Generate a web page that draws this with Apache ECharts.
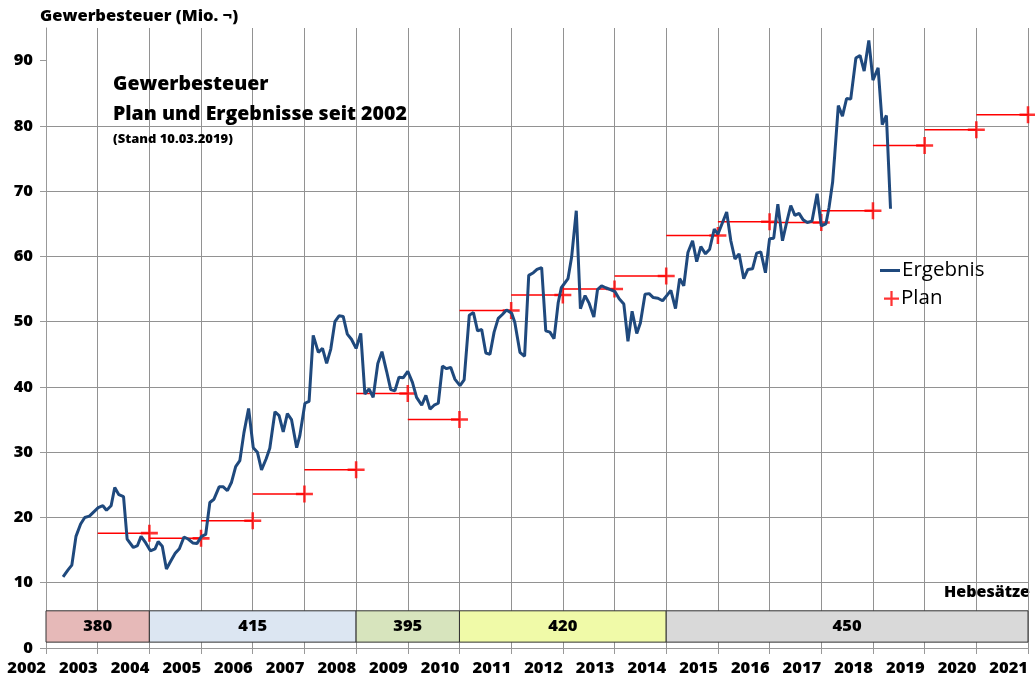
<!DOCTYPE html>
<html>
<head>
<meta charset="utf-8">
<title>Gewerbesteuer</title>
<script src="https://cdn.jsdelivr.net/npm/echarts@6/dist/echarts.min.js"></script>
<style>
  html, body { margin: 0; padding: 0; background: #fff; }
  #main { width: 1035px; height: 684px; }
</style>
</head>
<body>
<div id="main"></div>
<script>
// Ergebnis (monatlich, x = Jahr als Dezimalzahl)
var ergebnis = [
  [2002.33, 10.9], [2002.43, 12.0], [2002.50, 12.7], [2002.58, 17.1], [2002.67, 19.0],
  [2002.75, 20.0], [2002.84, 20.2], [2002.93, 20.9], [2003.01, 21.5], [2003.10, 21.8],
  [2003.17, 21.1], [2003.26, 21.8], [2003.33, 24.6], [2003.41, 23.5], [2003.50, 23.2],
  [2003.57, 16.7], [2003.69, 15.4], [2003.77, 15.7], [2003.84, 17.1], [2003.93, 16.1],
  [2004.02, 14.9], [2004.11, 15.2], [2004.17, 16.3], [2004.25, 15.6], [2004.33, 12.1],
  [2004.42, 13.4], [2004.50, 14.5], [2004.58, 15.2], [2004.67, 17.0], [2004.75, 16.7],
  [2004.84, 16.1], [2004.92, 16.0], [2005.01, 17.1], [2005.09, 17.4], [2005.17, 22.3],
  [2005.25, 22.8], [2005.35, 24.7], [2005.43, 24.7], [2005.51, 24.1], [2005.59, 25.4],
  [2005.67, 27.8], [2005.75, 28.7], [2005.83, 33.0], [2005.92, 36.7], [2006.01, 30.7],
  [2006.09, 30.0], [2006.17, 27.3], [2006.26, 29.0], [2006.33, 30.6], [2006.43, 36.2],
  [2006.51, 35.6], [2006.59, 33.1], [2006.67, 35.9], [2006.75, 35.0], [2006.85, 30.7],
  [2006.91, 32.5], [2007.01, 37.5], [2007.09, 37.8], [2007.17, 47.9], [2007.27, 45.3],
  [2007.35, 45.9], [2007.43, 43.6], [2007.51, 45.8], [2007.59, 50.0], [2007.67, 50.9],
  [2007.75, 50.8], [2007.83, 48.1], [2007.91, 47.3], [2008.00, 45.9], [2008.09, 48.2],
  [2008.17, 38.9], [2008.25, 39.7], [2008.33, 38.4], [2008.42, 43.6], [2008.50, 45.4],
  [2008.59, 42.4], [2008.67, 39.6], [2008.75, 39.4], [2008.83, 41.5], [2008.91, 41.4],
  [2009.00, 42.4], [2009.09, 40.7], [2009.17, 38.4], [2009.27, 37.2], [2009.35, 38.7],
  [2009.43, 36.6], [2009.51, 37.2], [2009.59, 37.5], [2009.67, 43.2], [2009.75, 42.8],
  [2009.83, 43.0], [2009.91, 41.2], [2010.01, 40.2], [2010.09, 41.1], [2010.19, 51.0],
  [2010.27, 51.4], [2010.35, 48.6], [2010.43, 48.8], [2010.51, 45.2], [2010.59, 45.0],
  [2010.67, 48.4], [2010.75, 50.5], [2010.83, 51.1], [2010.91, 51.8], [2011.01, 51.3],
  [2011.07, 49.9], [2011.17, 45.3], [2011.26, 44.7], [2011.34, 57.1], [2011.43, 57.5],
  [2011.50, 58.0], [2011.59, 58.3], [2011.67, 48.6], [2011.75, 48.4], [2011.83, 47.4],
  [2011.91, 52.9], [2011.97, 55.2], [2012.10, 56.6], [2012.17, 59.9], [2012.26, 67.0],
  [2012.34, 52.0], [2012.43, 54.0], [2012.51, 52.8], [2012.60, 50.7], [2012.67, 54.9],
  [2012.75, 55.5], [2012.83, 55.2], [2012.92, 54.9], [2013.01, 54.6], [2013.09, 53.5],
  [2013.18, 52.7], [2013.26, 47.0], [2013.34, 51.6], [2013.43, 48.2], [2013.50, 49.8],
  [2013.59, 54.2], [2013.67, 54.3], [2013.75, 53.7], [2013.84, 53.6], [2013.93, 53.2],
  [2014.01, 54.0], [2014.09, 54.8], [2014.18, 52.0], [2014.26, 56.6], [2014.34, 55.5],
  [2014.42, 60.6], [2014.51, 62.4], [2014.59, 59.2], [2014.67, 61.5], [2014.76, 60.4],
  [2014.84, 61.1], [2014.93, 64.2], [2015.00, 63.4], [2015.17, 66.8], [2015.25, 62.4],
  [2015.33, 59.6], [2015.41, 60.4], [2015.50, 56.6], [2015.58, 58.0], [2015.67, 58.1],
  [2015.75, 60.5], [2015.83, 60.7], [2015.92, 57.5], [2016.00, 62.7], [2016.08, 62.8],
  [2016.16, 68.0], [2016.25, 62.4], [2016.33, 65.2], [2016.41, 67.8], [2016.49, 66.3],
  [2016.57, 66.6], [2016.65, 65.6], [2016.73, 65.2], [2016.82, 65.4], [2016.92, 69.6],
  [2017.00, 64.7], [2017.09, 65.0], [2017.15, 67.5], [2017.22, 71.4], [2017.26, 75.5],
  [2017.33, 83.1], [2017.41, 81.5], [2017.49, 84.2], [2017.57, 84.1], [2017.67, 90.4],
  [2017.75, 90.8], [2017.83, 88.4], [2017.92, 93.1], [2018.00, 87.0], [2018.10, 88.9],
  [2018.18, 80.2], [2018.26, 81.6], [2018.34, 67.3]
];

// Plan je Jahr (Kreuz am Jahresende, Linie über das Jahr)
var planYears = [2004, 2005, 2006, 2007, 2008, 2009, 2010, 2011, 2012, 2013, 2014, 2015, 2016, 2017, 2018, 2019, 2020, 2021];
var planValues = [17.6, 16.8, 19.5, 23.6, 27.3, 39.0, 35.0, 51.7, 54.1, 55.0, 57.0, 63.2, 65.3, 65.2, 67.0, 77.0, 79.4, 81.7];

// Hebesätze
var rateStart = [2002, 2004, 2008, 2010, 2014];
var rateEnd = [2004, 2008, 2010, 2014, 2021];
var rates = [380, 415, 395, 420, 450];
var rateColors = ['#e6b9b8', '#dce6f2', '#d7e4bd', '#f0faa8', '#d9d9d9'];

var yTicks = [0, 10, 20, 30, 40, 50, 60, 70, 80, 90];

var FONT = '"Open Sans", sans-serif';
var BOLD = 800;
var crossPath = 'path://M0,6.8h16v2.4h-16z M6.8,0h2.4v16h-2.4z';

var planData = planYears.map(function (y, i) { return [y, planValues[i]]; });
var rateData = rateStart.map(function (s, i) { return [s, rateEnd[i], rates[i]]; });

var myChart = echarts.init(document.getElementById('main'));

myChart.setOption({
  animation: false,
  textStyle: { fontFamily: FONT },
  title: {
    text: 'Gewerbesteuer\nPlan und Ergebnisse seit 2002',
    subtext: '(Stand 10.03.2019)',
    left: 113,
    top: 69,
    padding: 0,
    itemGap: 4,
    textStyle: { fontFamily: FONT, fontSize: 19.5, fontWeight: BOLD, color: '#000', lineHeight: 30 },
    subtextStyle: { fontFamily: FONT, fontSize: 13, fontWeight: BOLD, color: '#000' }
  },
  legend: [{
    data: ['Ergebnis'],
    left: 880,
    top: 260,
    padding: 0,
    icon: 'rect',
    itemWidth: 20,
    itemHeight: 3,
    textStyle: { fontFamily: FONT, fontSize: 20.5, color: '#000', padding: [0, 0, 0, -3] }
  }, {
    data: ['Plan'],
    left: 884,
    top: 288,
    padding: 0,
    icon: crossPath,
    itemWidth: 15,
    itemHeight: 15,
    textStyle: { fontFamily: FONT, fontSize: 20.5, color: '#000', padding: [0, 0, 0, -3] }
  }],
  graphic: [{
    type: 'text',
    right: 5,
    top: 584,
    style: { text: 'Hebesätze', font: BOLD + ' 16px ' + FONT, fill: '#000' }
  }],
  grid: { left: 46, right: 7, top: 28, bottom: 36 },
  xAxis: {
    type: 'value',
    min: 2002,
    max: 2021,
    interval: 1,
    axisLine: { lineStyle: { color: '#999' } },
    axisTick: { show: true, length: 6, lineStyle: { color: '#999' } },
    axisLabel: {
      align: 'right',
      margin: 12,
      fontFamily: FONT,
      fontSize: 16.5,
      fontWeight: BOLD,
      color: '#000',
      showMinLabel: true,
      showMaxLabel: true,
      formatter: function (v) { return String(v); }
    },
    splitLine: { show: true, showMinLine: true, showMaxLine: true, lineStyle: { color: '#929292', width: 1 } }
  },
  yAxis: {
    type: 'value',
    min: 0,
    max: 95,
    interval: 10,
    name: 'Gewerbesteuer (Mio. ¬)',
    nameLocation: 'end',
    nameGap: 3,
    nameTextStyle: { align: 'left', padding: [0, 0, 0, -6], fontFamily: FONT, fontSize: 16.5, fontWeight: BOLD, color: '#000' },
    axisLine: { show: true, lineStyle: { color: '#999' } },
    axisTick: { show: true, length: 6, customValues: yTicks, lineStyle: { color: '#999' } },
    axisLabel: {
      margin: 13,
      fontFamily: FONT,
      fontSize: 16.5,
      fontWeight: BOLD,
      color: '#000',
      showMaxLabel: false,
      formatter: function (v) { return v % 10 === 0 ? String(v) : ''; }
    },
    splitLine: { show: true, showMaxLine: false, lineStyle: { color: '#929292', width: 1 } }
  },
  series: [{
    name: 'Hebesätze',
    type: 'custom',
    z: 3,
    data: rateData,
    encode: { x: [0, 1], y: 2 },
    renderItem: function (params, api) {
      var a = api.coord([api.value(0), 5.7]);
      var b = api.coord([api.value(1), 0.9]);
      return {
        type: 'rect',
        shape: { x: a[0], y: a[1], width: b[0] - a[0], height: b[1] - a[1] },
        style: { fill: rateColors[params.dataIndex], stroke: '#333', lineWidth: 1 },
        textContent: {
          style: { text: String(api.value(2)), font: BOLD + ' 16.5px ' + FONT, fill: '#000' }
        },
        textConfig: { position: 'inside' }
      };
    }
  }, {
    name: 'Planlinie',
    type: 'custom',
    z: 4,
    data: planData,
    renderItem: function (params, api) {
      var a = api.coord([api.value(0) - 1, api.value(1)]);
      var b = api.coord([api.value(0), api.value(1)]);
      return {
        type: 'line',
        shape: { x1: a[0], y1: a[1], x2: b[0], y2: b[1] },
        style: { stroke: '#ff0000', lineWidth: 1.5 }
      };
    }
  }, {
    name: 'Plan',
    type: 'scatter',
    z: 5,
    data: planData,
    symbol: crossPath,
    symbolSize: 17,
    itemStyle: { color: '#ff0000' }
  }, {
    name: 'Ergebnis',
    type: 'line',
    z: 6,
    data: ergebnis,
    symbol: 'none',
    lineStyle: { color: '#1f497d', width: 3 },
    itemStyle: { color: '#1f497d' }
  }]
});
</script>
</body>
</html>
